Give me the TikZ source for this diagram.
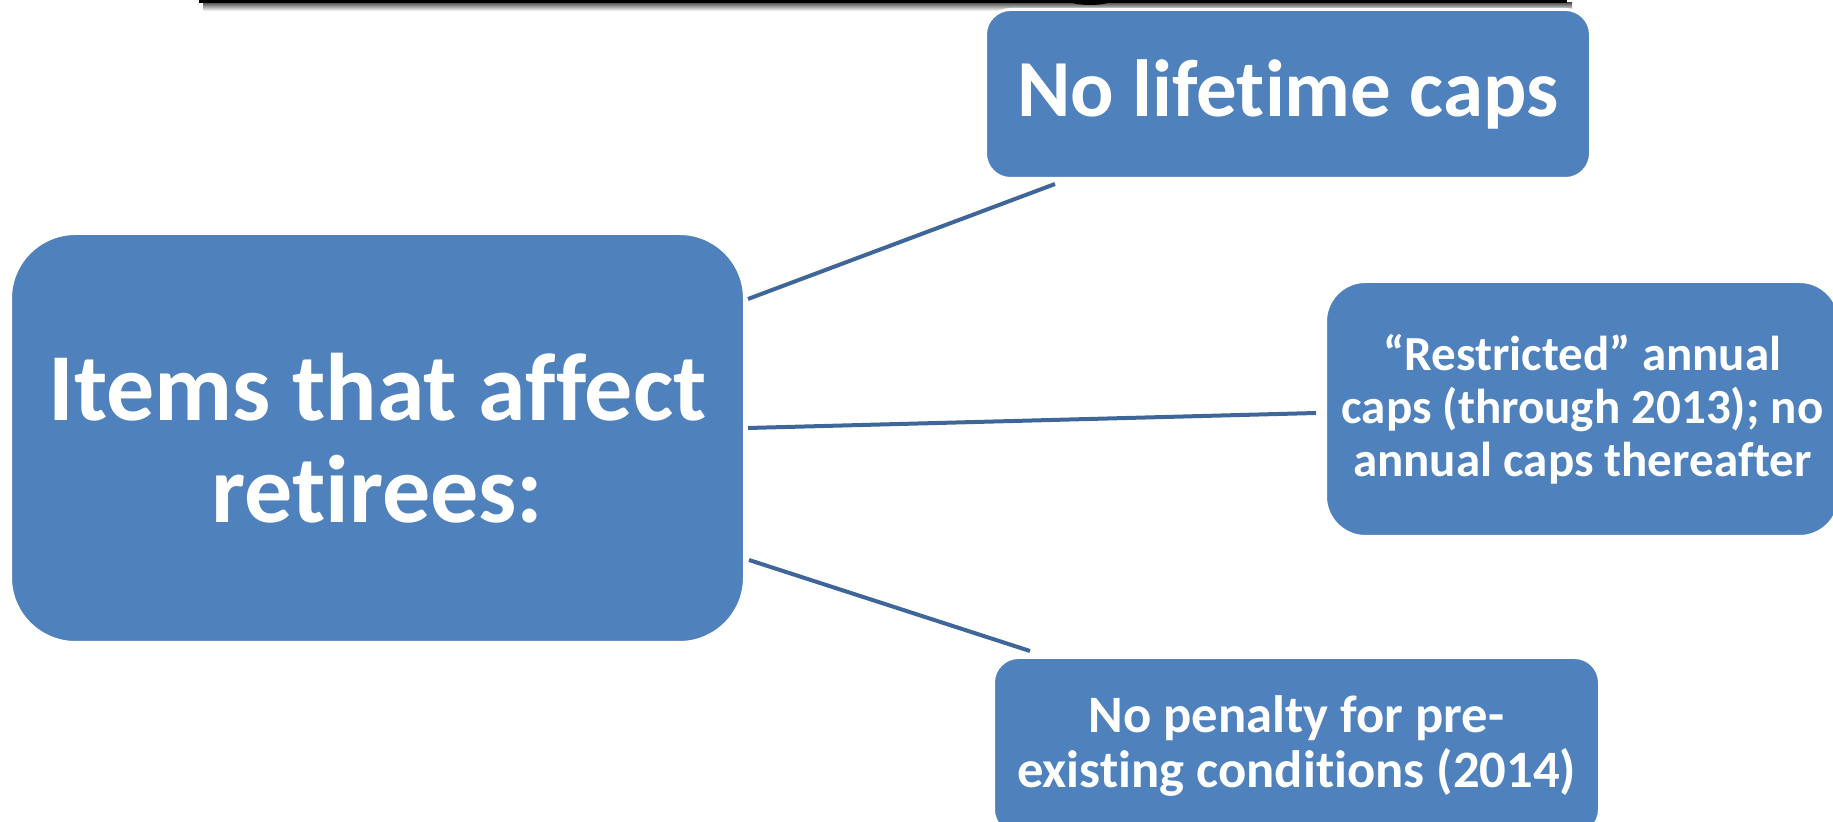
\documentclass[tikz,border=0pt]{standalone}
\usepackage{fontspec}
\setmainfont{Carlito}[Ligatures={NoCommon}]
\usetikzlibrary{calc}
\definecolor{boxblue}{HTML}{4F81BD}
\definecolor{linkblue}{HTML}{3F6698}
\tikzset{
  boxnode/.style={draw=white, line width=1.5pt, fill=boxblue, text=white,
    align=center, inner sep=0pt, font=\bfseries},
  link/.style={draw=linkblue, line width=2pt}
}
\begin{document}
\begin{tikzpicture}[x=0.5pt,y=-0.5pt]
\useasboundingbox (0,0) rectangle (1833,822);
\clip (0,0) rectangle (1833,822);
% top bar with shadow
\shade[top color=black!65, bottom color=white] (203,3) rectangle (1572,11);
\fill[black] (199,0) rectangle (1567,3.5);
\fill[black] (1090,0) ellipse [x radius=22, y radius=5];
% boxes
\node[boxnode, minimum width=367pt, minimum height=204.5pt, rounded corners=32.5pt,
  font=\bfseries\fontsize{48}{51}\selectfont] (main) at (377.5,438)
  {Items that affect\\retirees:};
\node[boxnode, minimum width=302.5pt, minimum height=84.5pt, rounded corners=12.5pt,
  font=\bfseries\fontsize{40.5}{44}\selectfont] (b1) at (1288,94) {No lifetime caps};
\node[boxnode, minimum width=257pt, minimum height=127.5pt, rounded corners=20pt,
  font=\bfseries\fontsize{24.5}{26.5}\selectfont] (b3) at (1582.5,409)
  {“Restricted” annual\\caps (through 2013); no\\annual caps thereafter};
\node[boxnode, minimum width=303pt, minimum height=88.5pt, rounded corners=12.5pt,
  font=\bfseries\fontsize{26.3}{27.5}\selectfont] (b4) at (1296.5,746)
  {No penalty for pre-\\existing conditions (2014)};
% connectors
\draw[link] ($(main.east)+(2,-139)$) -- ($(b1.south west)+(71,4)$);
\draw[link] ($(main.east)+(2,-10)$) -- ($(b3.west)+(-8,4)$);
\draw[link] ($(main.east)+(3,122)$) -- ($(b4.north west)+(38,-5)$);
\end{tikzpicture}
\end{document}
